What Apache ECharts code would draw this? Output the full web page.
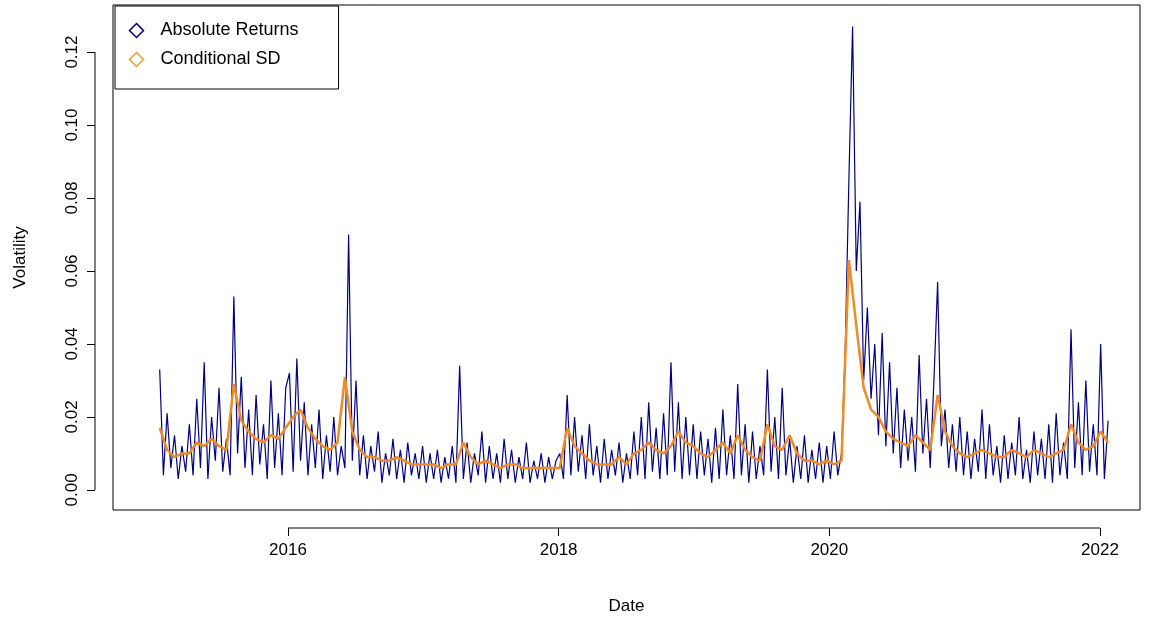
<!DOCTYPE html>
<html>
<head>
<meta charset="utf-8">
<script src="https://cdn.jsdelivr.net/npm/echarts@6/dist/echarts.min.js"></script>
<style>html,body{margin:0;padding:0;background:#fff}#chart{width:1153px;height:620px}</style>
</head>
<body>
<div id="chart"></div>
<script>
// absolute returns, one reading every 10 days from startDate
const retStart = '2015-01-20';
const retStepDays = 10;
const absReturns = [
  0.033,0.004,0.021,0.006,0.015,0.003,0.012,0.005,0.018,0.004,0.025,0.006,0.035,0.003,0.020,0.008,0.028,0.005,0.014,0.004,0.053,0.010,0.031,0.006,0.022,0.004,0.026,0.007,0.018,0.003,0.030,0.006,0.021,0.004,0.028,
  0.032,0.005,0.036,0.008,0.024,0.004,0.018,0.006,0.022,0.003,0.015,0.005,0.020,0.004,0.012,0.006,0.070,0.008,0.030,0.004,0.015,0.003,0.012,0.005,0.016,0.002,0.010,0.004,0.014,0.003,0.011,0.002,0.013,0.004,0.010,0.003,
  0.012,0.002,0.010,0.003,0.011,0.002,0.009,0.003,0.012,0.002,0.034,0.003,0.013,0.002,0.010,0.004,0.016,0.002,0.012,0.003,0.010,0.002,0.014,0.003,0.011,0.002,0.009,0.003,0.013,0.002,0.008,0.003,0.010,0.002,0.009,0.003,0.008,
  0.010,0.003,0.026,0.004,0.020,0.005,0.015,0.003,0.018,0.004,0.012,0.002,0.014,0.003,0.011,0.004,0.013,0.002,0.010,0.003,0.016,0.004,0.020,0.003,0.024,0.005,0.017,0.003,0.021,0.004,0.035,0.005,0.024,0.003,0.020,0.004,
  0.018,0.003,0.016,0.004,0.014,0.002,0.017,0.003,0.022,0.004,0.015,0.003,0.029,0.004,0.018,0.002,0.016,0.003,0.012,0.004,0.033,0.005,0.020,0.003,0.028,0.004,0.014,0.002,0.012,0.003,0.015,0.002,0.011,0.003,0.013,0.002,
  0.012,0.003,0.016,0.004,0.010,0.038,0.085,0.127,0.060,0.079,0.030,0.050,0.025,0.040,0.015,0.043,0.012,0.035,0.010,0.028,0.006,0.022,0.008,0.020,0.005,0.037,0.010,0.025,0.006,0.030,0.057,0.012,0.022,0.006,0.018,0.005,
  0.020,0.004,0.016,0.003,0.014,0.005,0.022,0.003,0.018,0.004,0.012,0.002,0.015,0.003,0.013,0.004,0.020,0.003,0.011,0.002,0.016,0.004,0.014,0.003,0.018,0.002,0.021,0.004,0.013,0.003,0.044,0.006,0.024,0.004,0.030,0.005,
  0.018,0.004,0.040,0.003,0.019
];

// conditional SD, one reading every 20 days
const sdStart = '2015-01-20';
const sdStepDays = 20;
const condSD = [
  0.017,0.011,0.009,0.010,0.010,0.013,0.012,0.014,0.012,0.011,0.029,0.019,0.016,0.014,0.013,0.015,0.014,0.017,
  0.020,0.022,0.017,0.014,0.012,0.011,0.013,0.031,0.016,0.011,0.009,0.009,0.008,0.008,0.009,0.008,0.007,0.007,
  0.007,0.007,0.006,0.007,0.007,0.013,0.009,0.007,0.008,0.007,0.006,0.007,0.007,0.006,0.006,0.006,0.006,0.006,
  0.006,0.017,0.012,0.010,0.008,0.007,0.007,0.007,0.009,0.007,0.010,0.011,0.013,0.011,0.010,0.012,0.016,0.013,
  0.012,0.010,0.009,0.011,0.013,0.010,0.015,0.011,0.009,0.008,0.018,0.012,0.011,0.015,0.010,0.008,0.008,0.007,
  0.008,0.007,0.008,0.063,0.045,0.028,0.022,0.020,0.016,0.014,0.013,0.012,0.015,0.013,0.011,0.026,0.016,0.012,
  0.010,0.009,0.010,0.011,0.010,0.009,0.009,0.011,0.010,0.009,0.011,0.010,0.009,0.010,0.011,0.018,0.013,0.011,
  0.012,0.016,0.013
];

const xTicks = [2016, 2018, 2020, 2022];
const yTicks = [0, 0.02, 0.04, 0.06, 0.08, 0.10, 0.12];

// date -> decimal year
function decYear(start, stepDays, i) {
  const d = new Date(start + 'T00:00:00Z');
  d.setUTCDate(d.getUTCDate() + i * stepDays);
  const y = d.getUTCFullYear();
  const y0 = Date.UTC(y, 0, 1), y1 = Date.UTC(y + 1, 0, 1);
  return y + (d.getTime() - y0) / (y1 - y0);
}
const retData = absReturns.map((v, i) => [decYear(retStart, retStepDays, i), v]);
const sdData = condSD.map((v, i) => [decYear(sdStart, sdStepDays, i), v]);

const font = 'Liberation Sans, Arial, sans-serif';
const chart = echarts.init(document.getElementById('chart'));
chart.setOption({
  animation: false,
  grid: { left: 113, right: 13, top: 5, bottom: 110, show: true, borderColor: '#000', borderWidth: 1,
    outerBoundsMode: 'none', containLabel: false },
  legend: {
    left: 115, top: 6, orient: 'vertical', itemGap: 10,
    backgroundColor: '#fff', borderColor: '#000', borderWidth: 1,
    padding: [15, 40, 20, 12], itemWidth: 14, itemHeight: 14,
    textStyle: { fontFamily: font, fontSize: 18, color: '#000', padding: [0, 0, 0, 12] },
    data: [
      { name: 'Absolute Returns', icon: 'diamond', itemStyle: { color: 'none', borderColor: '#000080', borderWidth: 1.5 } },
      { name: 'Conditional SD', icon: 'diamond', itemStyle: { color: 'none', borderColor: '#e69f30', borderWidth: 1.5 } }
    ]
  },
  xAxis: {
    type: 'value', min: 2014.707, max: 2022.296, name: 'Date', nameLocation: 'middle', nameGap: 70,
    nameTextStyle: { fontFamily: font, fontSize: 17, color: '#000' },
    offset: 18, splitLine: { show: false },
    axisLine: { show: false, onZero: false },
    axisTick: { show: true, inside: false, length: 8, customValues: xTicks, lineStyle: { color: '#000' } },
    axisLabel: { customValues: xTicks, fontFamily: font, fontSize: 17, color: '#000', margin: 14,
      formatter: v => String(v) }
  },
  yAxis: {
    type: 'value', min: -0.0055, max: 0.1329, name: 'Volatility', nameLocation: 'middle', nameGap: 66,
    nameTextStyle: { fontFamily: font, fontSize: 17, color: '#000' },
    offset: 18, splitLine: { show: false },
    axisLine: { show: false, onZero: false },
    axisTick: { show: true, inside: false, length: 8, customValues: yTicks, lineStyle: { color: '#000' } },
    axisLabel: { customValues: yTicks, rotate: 90, fontFamily: font, fontSize: 17, color: '#000', margin: 14,
      formatter: v => v.toFixed(2) }
  },
  series: [
    { name: 'Absolute Returns', type: 'line', data: retData, showSymbol: false, color: '#000080',
      lineStyle: { width: 1.2, color: '#000080' } },
    { name: 'Conditional SD', type: 'line', data: sdData, showSymbol: false, color: '#e69f30',
      lineStyle: { width: 2.5, color: '#f08a24' } }
  ]
});

// R-style axis lines spanning first to last tick
const xa = chart.convertToPixel({ gridIndex: 0 }, [xTicks[0], 0])[0];
const xb = chart.convertToPixel({ gridIndex: 0 }, [xTicks[xTicks.length - 1], 0])[0];
const ya = chart.convertToPixel({ gridIndex: 0 }, [2016, yTicks[0]])[1];
const yb = chart.convertToPixel({ gridIndex: 0 }, [2016, yTicks[yTicks.length - 1]])[1];
const axisY = 510 + 18, axisX = 113 - 18;
chart.setOption({
  graphic: [
    { type: 'line', shape: { x1: xa, y1: axisY, x2: xb, y2: axisY }, style: { stroke: '#000', lineWidth: 1 } },
    { type: 'line', shape: { x1: axisX, y1: ya, x2: axisX, y2: yb }, style: { stroke: '#000', lineWidth: 1 } }
  ]
});
</script>
</body>
</html>
